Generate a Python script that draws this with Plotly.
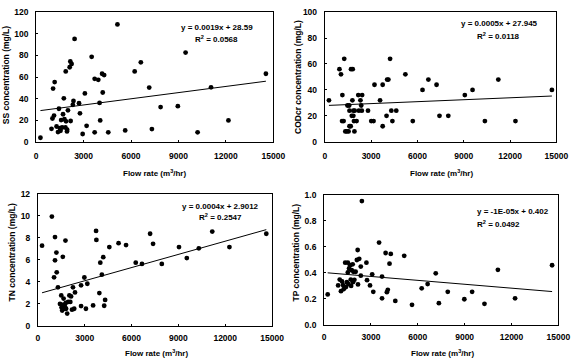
import plotly.graph_objects as go

# ---------------- data ----------------
ss_flow = [270, 970, 1070, 1170, 1030, 1130, 1290, 1380, 1440, 1540, 1580, 1640, 1700, 1750, 1790,
           1850, 1890, 1870, 1950, 2010, 2120, 2160, 2240, 2180, 2320, 2360, 2430, 2710, 2770, 2940,
           3080, 3190, 3510, 3700, 3700, 3930, 4010, 4050, 4170, 4300, 4210, 4560, 5140, 5630, 6230,
           6620, 7150, 7320, 7870, 8960, 9450, 10210, 11060, 12160, 14530, 1500, 1960]
ss_conc = [4, 12.3, 49.4, 55.4, 21.8, 24.5, 14.4, 9.3, 30.8, 10.5, 20.3, 13.5, 25.7, 40.4, 21.2,
           13.5, 19.2, 65.2, 9.9, 29.3, 69.1, 74.5, 72.1, 19.5, 34.4, 38.0, 95.2, 35.9, 26.6, 7.5,
           44.9, 15.0, 78.7, 58.4, 9.0, 57.5, 36.2, 20.0, 63.1, 61.9, 45.8, 9.0, 108.6, 10.8, 65.2,
           73.6, 50.3, 12.0, 32.3, 33.2, 82.6, 9.0, 50.6, 20.0, 63.1, 12.8, 11.4]

cod_flow = [270, 950, 1050, 1140, 1120, 1220, 1260, 1330, 1430, 1470, 1540, 1580, 1600, 1600, 1680,
            1700, 1790, 1810, 1750, 1850, 1890, 1920, 1940, 1850, 2060, 2170, 2210, 2310, 2360, 2420,
            2400, 2800, 3010, 3160, 3220, 3580, 3750, 3750, 4000, 4040, 4120, 4230, 4310, 4380, 4630,
            5220, 5700, 6330, 6710, 7240, 7430, 8000, 9070, 9570, 10370, 11240, 12350, 14710]
cod_conc = [32, 56, 52, 36, 16, 16, 64, 8, 8, 28, 8, 28, 24, 12, 12,
            56, 32, 56, 20, 20, 16, 8, 24, 24, 16, 36, 24, 32, 28, 36,
            24, 24, 16, 16, 44, 32, 44, 12, 20, 48, 48, 64, 24, 16, 24,
            52, 16, 40, 48, 44, 20, 20, 36, 40, 16, 48, 16, 40]

tn_flow = [270, 900, 1040, 1100, 1100, 1190, 1210, 1290, 1420, 1500, 1520, 1560, 1600, 1650, 1670,
           1730, 1770, 1790, 1880, 1940, 2020, 2080, 2130, 2190, 2250, 2330, 2380, 2770, 2770, 2980,
           3080, 3170, 3540, 3730, 3750, 3940, 4000, 4100, 4190, 4250, 4310, 4580, 5170, 5650, 6270,
           6670, 7190, 7380, 7940, 9040, 9540, 10310, 11170, 12270, 14630, 1580, 1710, 1630, 1810]
tn_conc = [7.29, 9.94, 4.42, 5.96, 8.08, 6.67, 4.87, 3.51, 2.0, 2.77, 1.68, 1.39, 6.28, 2.48, 1.56,
           1.77, 7.76, 2.09, 1.12, 2.18, 2.77, 2.18, 2.68, 1.47, 3.51, 1.56, 3.04, 3.69, 1.80, 4.40,
           1.56, 3.83, 1.86, 8.64, 7.82, 2.98, 5.75, 4.66, 6.25, 1.83, 2.36, 7.17, 7.52, 7.35, 5.75,
           5.63, 8.38, 7.46, 5.63, 7.17, 6.17, 7.05, 8.58, 7.17, 8.38, 1.62, 1.62, 1.92, 1.56]

tp_flow = [230, 900, 1000, 1080, 1150, 1210, 1250, 1350, 1400, 1460, 1520, 1520, 1560, 1600, 1670,
           1710, 1730, 1770, 1830, 1850, 1880, 1940, 2020, 2100, 2170, 2150, 2250, 2350, 2350, 2420,
           2710, 2750, 2940, 3080, 3150, 3520, 3710, 3710, 3940, 4020, 4080, 4190, 4270, 4560, 5130,
           5630, 6250, 6630, 7150, 7350, 7920, 8980, 9480, 10270, 11130, 12230, 14600]
tp_conc = [0.234, 0.303, 0.348, 0.259, 0.333, 0.306, 0.274, 0.478, 0.291, 0.328, 0.478, 0.403, 0.313,
           0.433, 0.458, 0.348, 0.299, 0.420, 0.465, 0.328, 0.408, 0.346, 0.408, 0.498, 0.311, 0.575,
           0.507, 0.448, 0.378, 0.950, 0.478, 0.343, 0.303, 0.388, 0.254, 0.632, 0.371, 0.204, 0.552,
           0.251, 0.269, 0.470, 0.545, 0.184, 0.530, 0.154, 0.281, 0.313, 0.396, 0.167, 0.254, 0.197,
           0.254, 0.162, 0.423, 0.204, 0.458]

# trend-line coefficients as printed on the chart (slope, intercept)
ss_fit = (0.0019, 28.59)
cod_fit = (0.0005, 27.945)
tn_fit = (0.0004, 2.9012)
tp_fit = (-1e-05, 0.402)

eq_labels = ["y = 0.0019x + 28.59", "y = 0.0005x + 27.945", "y = 0.0004x + 2.9012", "y = -1E-05x + 0.402"]
r2_labels = ["R<sup>2</sup> = 0.0568", "R<sup>2</sup> = 0.0118", "R<sup>2</sup> = 0.2547", "R<sup>2</sup> = 0.0492"]
y_titles = ["SS concentration (mg/L)", "CODcr concentration (mg/L)", "TN concentration (mg/L)", "TP concentration (mg/L)"]
x_title = "Flow rate (m<sup>3</sup>/hr)"
x_ticks = [0, 3000, 6000, 9000, 12000, 15000]

# ---------------- figure ----------------
W, H = 584, 362
FONT = "Liberation Sans, Arial, sans-serif"

# panel pixel boxes: (left, right, top, bottom)
boxes = [(35, 278, 7.3, 141), (330.7, 568, 7.3, 140.7), (36.7, 276.7, 194.3, 330), (330, 570, 195, 329)]
yranges = [(0, 120, 20), (0, 100, 20), (0, 12, 2), (0, 1.0, 0.2)]
yfmt = ["d", "d", "d", ".1f"]
x_standoff = [6, 6, 4, 4]
y_standoff = [5, 5, 5, 5]
series = [(ss_flow, ss_conc, ss_fit), (cod_flow, cod_conc, cod_fit), (tn_flow, tn_conc, tn_fit), (tp_flow, tp_conc, tp_fit)]

fig = go.Figure()
layout = dict(width=W, height=H, margin=dict(l=0, r=0, t=0, b=0), paper_bgcolor="white",
              plot_bgcolor="white", showlegend=False, font=dict(family=FONT, color="black"))
annotations = []

# annotation positions (axis-domain fractions)
eq_pos = [(0.761, 0.885, 0.761, 0.793, "center"), (0.756, 0.912, 0.748, 0.813, "center"),
          (0.779, 0.904, 0.780, 0.823, "center"), (0.646, 0.871, 0.646, 0.771, "left")]
ytitle_px = [(3.5, 71.7), (303.3, 74), (10.7, 254), (301.7, 254)]
xtitle_px = [(156.7, 172.7), (450, 172.7), (158.3, 357.7), (451.7, 357.7)]

for i, (fx, fy, (m, b)) in enumerate(series):
    k = "" if i == 0 else str(i + 1)
    xa, ya = "x" + k, "y" + k
    l, r, t, bt = boxes[i]
    fig.add_trace(go.Scatter(x=fx, y=fy, mode="markers", xaxis=xa, yaxis=ya,
                             marker=dict(color="black", size=4.8, line=dict(width=0))))
    x0, x1 = min(fx), max(fx)
    fig.add_trace(go.Scatter(x=[x0, x1], y=[m * x0 + b, m * x1 + b], mode="lines", xaxis=xa, yaxis=ya,
                             line=dict(color="black", width=1)))
    axcommon = dict(showline=True, linecolor="black", linewidth=1, mirror=True, showgrid=False,
                    zeroline=False, ticks="inside", ticklen=2, tickcolor="black",
                    tickfont=dict(family=FONT, size=8.5, color="black", weight="bold"))
    layout["xaxis" + k] = dict(axcommon, domain=[l / W, r / W], range=[0, 15000], tickvals=x_ticks,
                               tickformat="d", anchor=ya, fixedrange=True,
                               ticklabelstandoff=x_standoff[i])
    y0, y1, dt = yranges[i]
    layout["yaxis" + k] = dict(axcommon, domain=[1 - bt / H, 1 - t / H], range=[y0, y1], dtick=dt,
                               tickformat=yfmt[i], anchor=xa, fixedrange=True,
                               ticklabelstandoff=y_standoff[i])
    ex, ey, rx, ry, al = eq_pos[i]
    annotations.append(dict(xref=xa + " domain", yref=ya + " domain", x=ex, y=ey, text=eq_labels[i],
                            showarrow=False, xanchor=al, yanchor="middle",
                            font=dict(family=FONT, size=8, color="black", weight="bold")))
    annotations.append(dict(xref=xa + " domain", yref=ya + " domain", x=rx, y=ry, text=r2_labels[i],
                            showarrow=False, xanchor=al, yanchor="middle",
                            font=dict(family=FONT, size=8, color="black", weight="bold")))
    tx, ty = ytitle_px[i]
    annotations.append(dict(xref="paper", yref="paper", x=tx / W, y=1 - ty / H, text=y_titles[i],
                            textangle=-90, showarrow=False, xanchor="center", yanchor="middle",
                            font=dict(family=FONT, size=8.5, color="black", weight="bold")))
    tx, ty = xtitle_px[i]
    annotations.append(dict(xref="paper", yref="paper", x=tx / W, y=1 - ty / H, text=x_title,
                            showarrow=False, xanchor="center", yanchor="middle",
                            font=dict(family=FONT, size=8, color="black", weight="bold")))

layout["annotations"] = annotations
fig.update_layout(**layout)
fig.write_html("out.html")
